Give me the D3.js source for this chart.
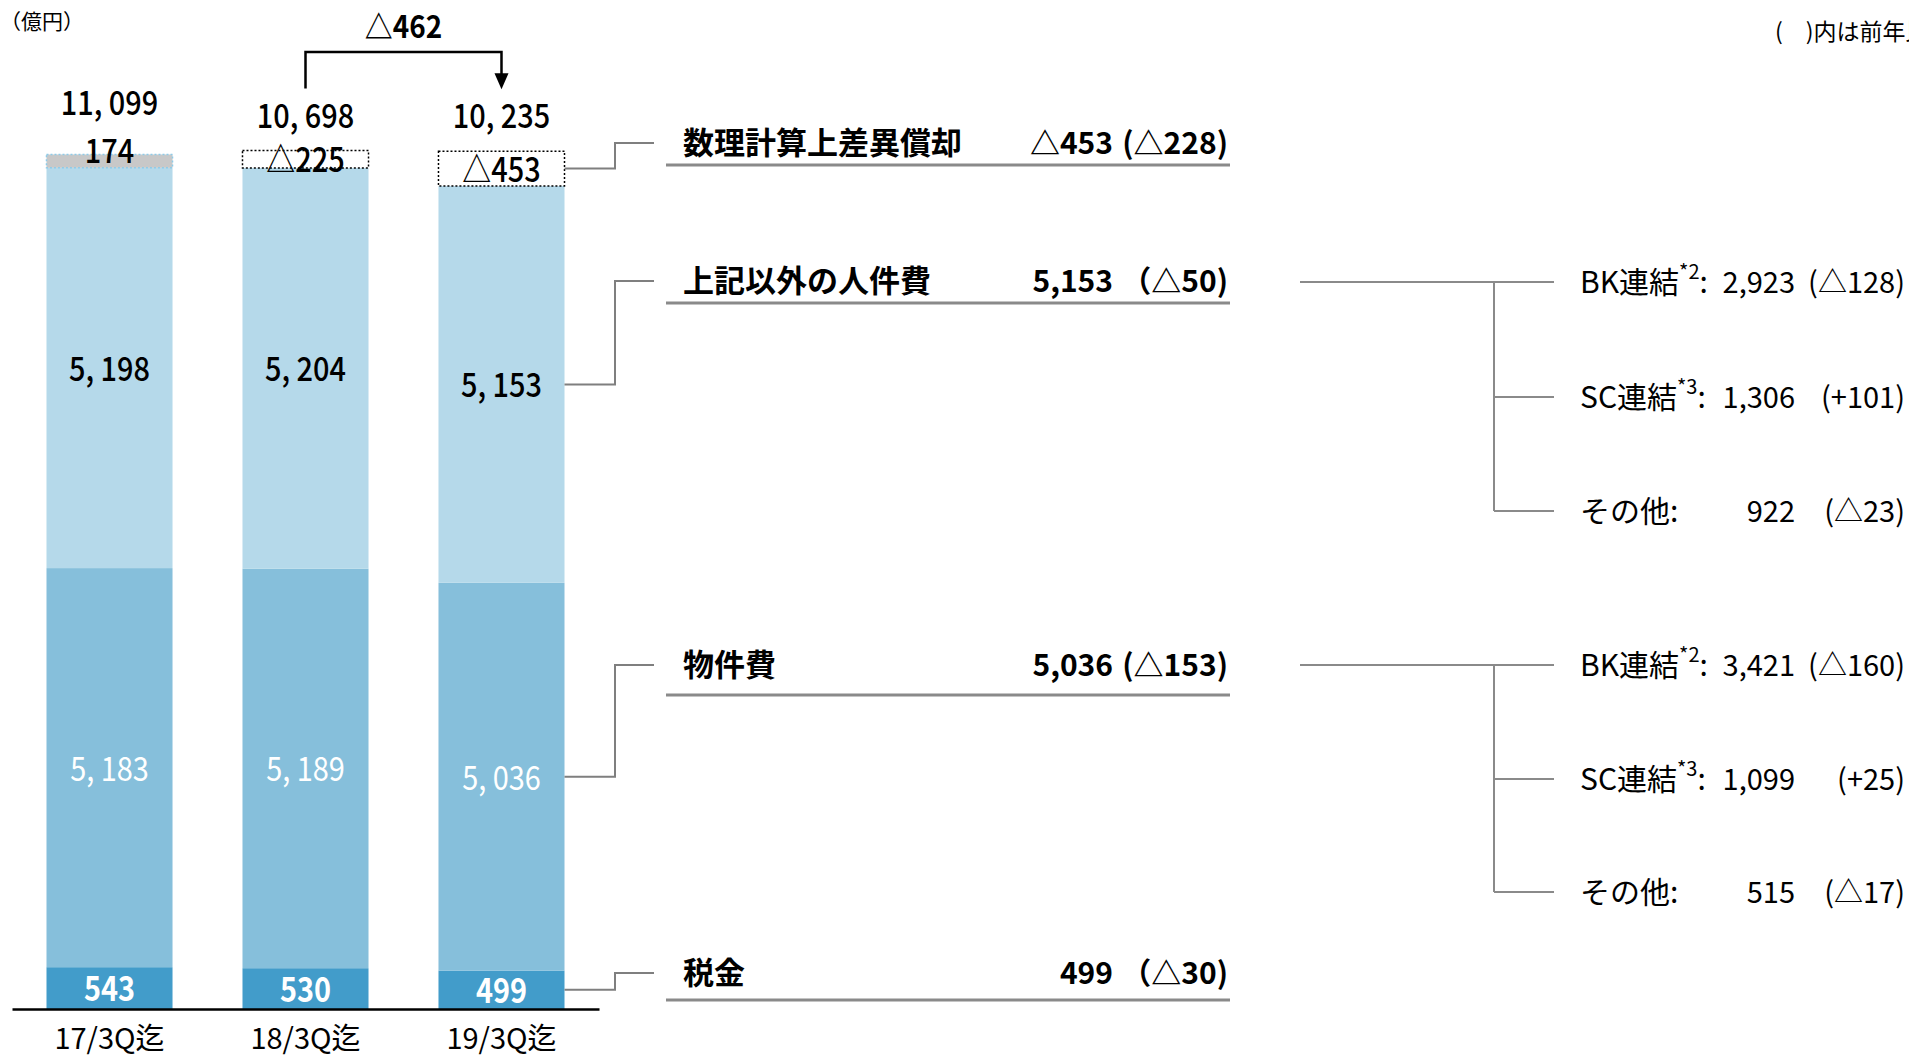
<!DOCTYPE html>
<html><head><meta charset="utf-8">
<script src="https://cdn.jsdelivr.net/npm/d3@7"></script>
<style>
body{margin:0;background:#fff;overflow:hidden;}
svg{display:block;}
text{font-family:"Noto Sans CJK JP","Noto Sans",sans-serif;}
</style></head><body>
<svg id="c" width="1909" height="1057"></svg>
<script>
// ---- data ----
const categories = ["17/3Q迄", "18/3Q迄", "19/3Q迄"];
const taxValues = [543, 530, 499];
const materialValues = [5183, 5189, 5036];
const personnelValues = [5198, 5204, 5153];
const actuarialValues = [174, -225, -453];
const totalValues = [11099, 10698, 10235];
const changeLabel = "△462";
const unitLabel = "（億円）";
const noteLabel = "(　)内は前年比";

const headingNames = ["数理計算上差異償却", "上記以外の人件費", "物件費", "税金"];
const headingValues = ["△453", "5,153", "5,036", "499"];
const headingDiffs = ["(△228)", "（△50)", "(△153)", "（△30)"];

const subNames = ["BK連結", "SC連結", "その他:"];
const subSups = ["*2", "*3", ""];
const personnelSubValues = ["2,923", "1,306", "922"];
const personnelSubDiffs = ["(△128)", "(+101)", "(△23)"];
const materialSubValues = ["3,421", "1,099", "515"];
const materialSubDiffs = ["(△160)", "(+25)", "(△17)"];

// ---- setup ----
const svg = d3.select("#c");
const fmt = v => (v < 0 ? "△" : "") + d3.format(",")(Math.abs(v)).replace(/,/g, ", ");
const SX = 0.85;

function ctext(g, cx, baseline, str, size, opts = {}) {
  return g.append("text")
    .attr("transform", `translate(${cx},${baseline}) scale(${opts.sx || SX},1)`)
    .attr("text-anchor", opts.anchor || "middle")
    .attr("font-size", size)
    .attr("font-weight", opts.weight || "500")
    .attr("fill", opts.fill || "#000")
    .text(str);
}

const x = d3.scaleBand().domain(categories).range([12, 599]).paddingInner(0.357).paddingOuter(0.176);
const y = d3.scaleLinear().domain([0, 12000]).range([1009, 85]);

const colors = {tax: "#429cca", mat: "#86bfdb", pers: "#b5d9ea"};
const rows = categories.map((c, i) => ({cat: c, tax: taxValues[i], mat: materialValues[i], pers: personnelValues[i]}));
const stack = d3.stack().keys(["tax", "mat", "pers"])(rows);

const gBars = svg.append("g");
stack.forEach(layer => {
  gBars.selectAll(null).data(layer).join("rect")
    .attr("x", d => x(d.data.cat))
    .attr("width", x.bandwidth())
    .attr("y", d => y(d[1]))
    .attr("height", d => y(d[0]) - y(d[1]))
    .attr("fill", colors[layer.key]);
});

const labStyle = {tax: {fill: "#fff", w: "bold"}, mat: {fill: "#fff", w: "normal"}, pers: {fill: "#000", w: "500"}};
stack.forEach(layer => {
  layer.forEach(d => {
    ctext(gBars, x(d.data.cat) + x.bandwidth() / 2, (y(d[0]) + y(d[1])) / 2 + 13,
      fmt(d.data[layer.key]), 34, {fill: labStyle[layer.key].fill, weight: labStyle[layer.key].w});
  });
});

const stackTop = i => taxValues[i] + materialValues[i] + personnelValues[i];
const topY = [];
categories.forEach((c, i) => {
  const a = actuarialValues[i];
  const base = stackTop(i);
  const y0 = y(base), y1 = y(base + Math.abs(a));
  topY[i] = y1;
  gBars.append("rect")
    .attr("x", x(c)).attr("width", x.bandwidth())
    .attr("y", y1).attr("height", y0 - y1)
    .attr("fill", a > 0 ? "#c8c8c8" : "#fff")
    .attr("stroke", a > 0 ? "#8fcbe8" : "#000")
    .attr("stroke-width", 1.5)
    .attr("stroke-dasharray", "2,2");
  const cy = a > 0 ? y1 - 4 : (y0 + y1) / 2;
  ctext(gBars, x(c) + x.bandwidth() / 2, cy + 13, fmt(a), 34);
});

const totalCy = [];
categories.forEach((c, i) => {
  const cy = topY[i] - (actuarialValues[i] > 0 ? 52 : 36);
  totalCy[i] = cy;
  ctext(svg, x(c) + x.bandwidth() / 2, cy + 13, fmt(totalValues[i]), 34);
});

{
  const xa = x(categories[1]) + x.bandwidth() / 2, xb = x(categories[2]) + x.bandwidth() / 2;
  const ya = totalCy[1] - 26, yb = totalCy[2] - 26, yt = 52;
  svg.append("path").attr("d", `M${xa},${ya}V${yt}H${xb}V${yb - 14}`)
    .attr("fill", "none").attr("stroke", "#000").attr("stroke-width", 2.5);
  svg.append("path").attr("d", `M${xb - 7},${yb - 16}L${xb + 7},${yb - 16}L${xb},${yb}Z`).attr("fill", "#000");
  ctext(svg, (xa + xb) / 2, 38, changeLabel, 31, {weight: "bold", sx: 0.9});
}

const axis = svg.append("g").attr("transform", "translate(0,1009)")
  .call(d3.axisBottom(x).tickSize(0).tickSizeOuter(0).tickPadding(19));
axis.select(".domain").attr("stroke", "#000").attr("stroke-width", 2.5);
axis.selectAll("text").attr("font-size", 29).attr("fill", "#000")
  .style("font-family", "'Noto Sans CJK JP',sans-serif");

svg.append("text").attr("x", 0).attr("y", 29).attr("font-size", 21).text(unitLabel);
svg.append("text").attr("x", 1775).attr("y", 40).attr("font-size", 23).text(noteLabel);

const bar3 = 2;
const xr = x(categories[bar3]) + x.bandwidth();
const srcY = [
  (y(stackTop(bar3)) + y(stackTop(bar3) + Math.abs(actuarialValues[bar3]))) / 2,
  (y(taxValues[bar3] + materialValues[bar3]) + y(stackTop(bar3))) / 2,
  (y(taxValues[bar3]) + y(taxValues[bar3] + materialValues[bar3])) / 2,
  y(taxValues[bar3] / 2)
];
const rowY = [143, 281, 665, 973];
const underY = [165, 303, 695, 1000];
const gL = svg.append("g");
rowY.forEach((ry, i) => {
  gL.append("path").attr("d", `M${xr},${srcY[i]}H615V${ry}H654`)
    .attr("fill", "none").attr("stroke", "#7f7f7f").attr("stroke-width", 2);
  gL.append("line").attr("x1", 666).attr("x2", 1230).attr("y1", underY[i]).attr("y2", underY[i])
    .attr("stroke", "#8a8a8a").attr("stroke-width", 3);
  gL.append("text").attr("x", 683).attr("y", ry + 11).attr("font-size", 31).attr("font-weight", "bold")
    .text(headingNames[i]);
  gL.append("text").attr("x", 1113).attr("y", ry + 11).attr("text-anchor", "end").attr("font-size", 30).attr("font-weight", "bold")
    .text(headingValues[i]);
  gL.append("text").attr("x", 1228).attr("y", ry + 11).attr("text-anchor", "end").attr("font-size", 30).attr("font-weight", "bold")
    .text(headingDiffs[i]);
});

function tree(ys, values, diffs) {
  const g = svg.append("g");
  g.append("line").attr("x1", 1300).attr("x2", 1554).attr("y1", ys[0]).attr("y2", ys[0])
    .attr("stroke", "#8a8a8a").attr("stroke-width", 2);
  g.append("line").attr("x1", 1494).attr("x2", 1494).attr("y1", ys[0]).attr("y2", ys[2])
    .attr("stroke", "#8a8a8a").attr("stroke-width", 2);
  ys.forEach((yy, j) => {
    g.append("line").attr("x1", 1494).attr("x2", 1554).attr("y1", yy).attr("y2", yy)
      .attr("stroke", "#8a8a8a").attr("stroke-width", 2);
    const t = g.append("text").attr("x", 1580).attr("y", yy + 11).attr("font-size", 30);
    t.append("tspan").text(subNames[j]);
    if (subSups[j]) {
      t.append("tspan").attr("font-size", 20).attr("dy", -14).text(subSups[j]);
      t.append("tspan").attr("dy", 14).text(":");
    }
    g.append("text").attr("x", 1795).attr("y", yy + 11).attr("text-anchor", "end").attr("font-size", 29).text(values[j]);
    g.append("text").attr("x", 1905).attr("y", yy + 11).attr("text-anchor", "end").attr("font-size", 29).text(diffs[j]);
  });
}
tree([282, 397, 511], personnelSubValues, personnelSubDiffs);
tree([665, 779, 892], materialSubValues, materialSubDiffs);
</script>
</body></html>
